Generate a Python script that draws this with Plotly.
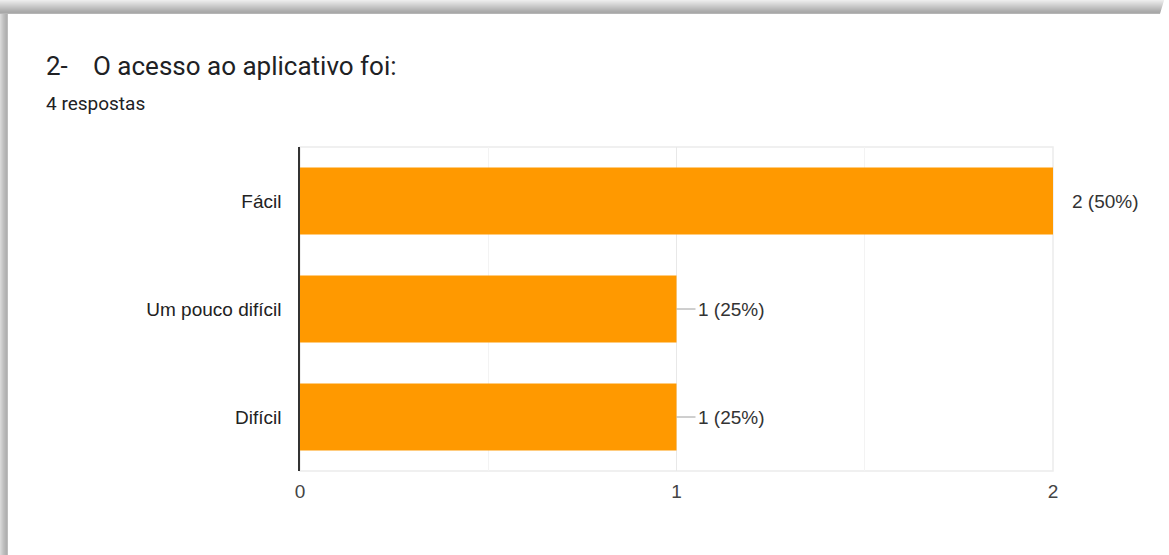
import plotly.graph_objects as go

categories = ["Fácil", "Um pouco difícil", "Difícil"]
counts = [2, 1, 1]
percents = ["50%", "25%", "25%"]
title_num = "2-"
title_text = "O acesso ao aplicativo foi:"
subtitle = "4 respostas"
x_ticks = [0, 1, 2]

W, H = 1169, 555
L, R, T, B = 300, 1053, 147, 471  # plot area pixel bounds

def px(x):
    return (x - L) / (R - L)

def py(y):
    return (B - y) / (B - T)

fig = go.Figure()
fig.add_trace(go.Bar(
    y=categories, x=counts, orientation="h",
    marker=dict(color="#ff9900", line=dict(width=0)),
    width=0.62, hoverinfo="skip",
))

shapes = []
# card shadow (top band and left band)
top_cols = ["#ececec", "#e6e6e6", "#e0e0e0", "#dadada", "#d4d4d4", "#cecece", "#c8c8c8",
            "#c2c2c2", "#bcbcbc", "#b6b6b6", "#b0b0b0", "#ababab", "#a8a8a8", "#b5b5b5"]
for i, c in enumerate(top_cols):
    shapes.append(dict(type="rect", xref="paper", yref="paper", layer="below",
                       x0=px(0), x1=px(1164 - i * 0.3), y0=py(i), y1=py(i + 1),
                       fillcolor=c, line=dict(width=0)))
left_cols = ["#d8d8d8", "#d0d0d0", "#c8c8c8", "#c0c0c0", "#bababa", "#b4b4b4", "#b0b0b0", "#bdbdbd"]
for i, c in enumerate(left_cols):
    shapes.append(dict(type="rect", xref="paper", yref="paper", layer="below",
                       x0=px(i), x1=px(i + 1), y0=py(555), y1=py(14),
                       fillcolor=c, line=dict(width=0)))
# plot frame (top, right, bottom) light gray
shapes.append(dict(type="rect", xref="paper", yref="paper", layer="below",
                   x0=0, x1=1, y0=0, y1=1, line=dict(color="#ececec", width=1.5),
                   fillcolor="rgba(0,0,0,0)"))
# leader lines for the value labels
for cat, v in zip(categories, counts):
    ln = 4 if v == max(counts) else 19
    shapes.append(dict(type="line", xref="x", yref="y", xsizemode="pixel", xanchor=v,
                       x0=0, x1=ln, y0=cat, y1=cat, line=dict(color="#9e9e9e", width=1)))

annotations = [
    dict(text=title_num, xref="paper", yref="paper", x=px(44), y=py(66),
         xanchor="left", yanchor="middle", showarrow=False,
         font=dict(family="Roboto", size=26, color="#202124")),
    dict(text=title_text, xref="paper", yref="paper", x=px(91), y=py(66),
         xanchor="left", yanchor="middle", showarrow=False,
         font=dict(family="Roboto", size=26, color="#202124")),
    dict(text=subtitle, xref="paper", yref="paper", x=px(44), y=py(103),
         xanchor="left", yanchor="middle", showarrow=False,
         font=dict(family="Roboto", size=19, color="#202124")),
]
for cat, v, p in zip(categories, counts, percents):
    shift = 17 if v == max(counts) else 19
    annotations.append(dict(text=f"{v} ({p})", x=v, y=cat, xref="x", yref="y",
                            xanchor="left", yanchor="middle", xshift=shift, showarrow=False,
                            font=dict(family="Liberation Sans, Arial", size=19, color="#333333")))

fig.update_layout(
    width=W, height=H,
    margin=dict(l=L, r=W - R, t=T, b=H - B, pad=0),
    paper_bgcolor="white", plot_bgcolor="white",
    showlegend=False,
    shapes=shapes, annotations=annotations,
    bargap=0.38,
    xaxis=dict(range=[0, 2], tickvals=x_ticks, ticktext=[str(t) for t in x_ticks],
               showgrid=True, gridcolor="#e8e8e8", gridwidth=1,
               minor=dict(dtick=0.5, showgrid=True, gridcolor="#f3f3f3", gridwidth=1),
               zeroline=False, showline=False, ticks="",
               ticklabelstandoff=7,
               tickfont=dict(family="Liberation Sans, Arial", size=19, color="#444444"),
               fixedrange=True),
    yaxis=dict(categoryorder="array", categoryarray=categories[::-1],
               showgrid=False, zeroline=False,
               showline=True, linecolor="#333333", linewidth=1.5,
               ticks="", ticklabelstandoff=13,
               tickfont=dict(family="Liberation Sans, Arial", size=19, color="#222222"),
               fixedrange=True),
)

fig.write_html("out.html", config={"displayModeBar": False},
               post_script="document.body.style.margin='0';document.body.style.overflow='hidden';")
